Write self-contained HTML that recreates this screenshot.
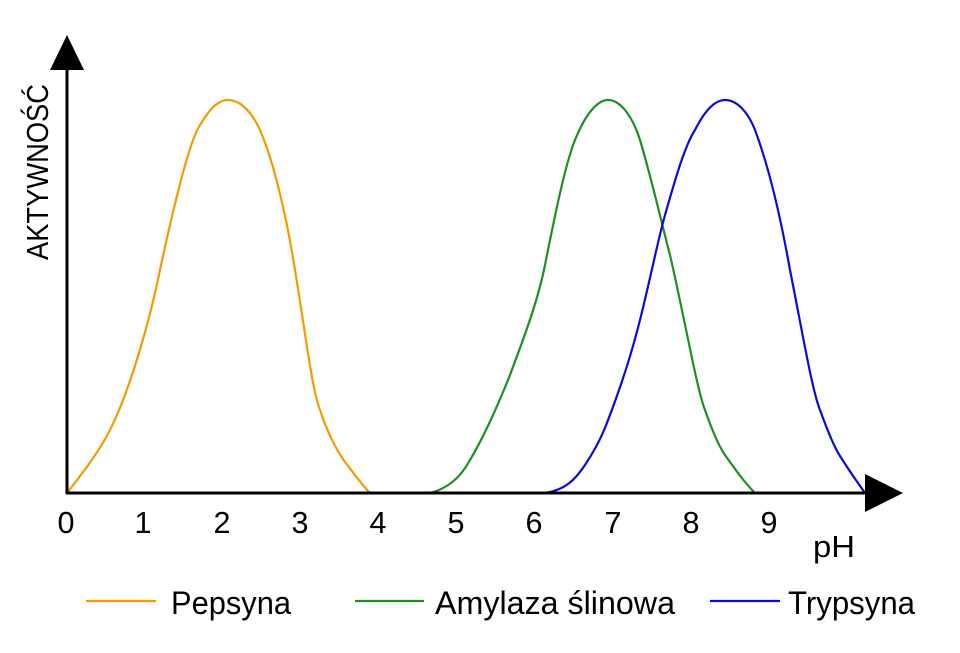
<!DOCTYPE html>
<html><head><meta charset="utf-8"><style>
html,body{margin:0;padding:0;background:#fff}
svg{display:block}
text{font-family:"Liberation Sans",sans-serif;fill:#000}
</style></head><body>
<svg width="960" height="653" viewBox="0 0 960 653" xmlns="http://www.w3.org/2000/svg">
<g fill="none" stroke-width="2.2" stroke-linejoin="round">
<path stroke="#f59a00" d="M67,493 C85,470 100,450 110,430 C130,390 150,320 160,270 C175,200 190,140 200,125 C212,105 220,100 228,100 C238,100 250,108 260,130 C275,165 287,220 295,270 C305,330 312,390 320,410 C330,440 340,455 345,462 C355,475 362,485 370,493"/>
<path stroke="#1f8f1f" d="M430,493 C450,488 462,475 470,460 C485,435 500,400 510,375 C525,335 538,300 545,265 C555,215 565,165 575,140 C585,115 597,100 608,100 C620,100 632,115 640,140 C652,180 662,225 670,255 C685,320 697,390 705,410 C712,430 718,445 725,455 C737,472 745,483 755,493"/>
<path stroke="#0a0ae0" d="M545,493 C565,490 575,480 585,465 C595,450 600,440 605,428 C618,395 630,360 640,320 C650,280 658,240 665,215 C675,180 685,145 695,130 C705,110 715,100 725,100 C737,100 748,112 755,130 C770,170 782,225 790,270 C802,330 812,390 820,410 C828,432 834,447 840,456 C850,472 858,483 865,493"/>
</g>
<g stroke="#000" stroke-width="3" fill="none">
<line x1="67" y1="66" x2="67" y2="494"/>
<line x1="66" y1="493" x2="868" y2="493"/>
</g>
<polygon points="67,35 84,70 50,70" fill="#000"/>
<polygon points="865,474 903,493 865,512" fill="#000"/>
<text transform="translate(48,260) rotate(-90)" font-size="31" textLength="176" lengthAdjust="spacingAndGlyphs">AKTYWNOŚĆ</text>
<g font-size="31" text-anchor="middle">
<text x="66" y="533" textLength="17" lengthAdjust="spacingAndGlyphs">0</text>
<text x="143" y="533" textLength="17" lengthAdjust="spacingAndGlyphs">1</text>
<text x="222" y="533" textLength="17" lengthAdjust="spacingAndGlyphs">2</text>
<text x="300" y="533" textLength="17" lengthAdjust="spacingAndGlyphs">3</text>
<text x="378" y="533" textLength="17" lengthAdjust="spacingAndGlyphs">4</text>
<text x="456" y="533" textLength="17" lengthAdjust="spacingAndGlyphs">5</text>
<text x="534" y="533" textLength="17" lengthAdjust="spacingAndGlyphs">6</text>
<text x="613" y="533" textLength="17" lengthAdjust="spacingAndGlyphs">7</text>
<text x="691" y="533" textLength="17" lengthAdjust="spacingAndGlyphs">8</text>
<text x="769" y="533" textLength="17" lengthAdjust="spacingAndGlyphs">9</text>
</g>
<text x="813" y="557" font-size="31" textLength="42" lengthAdjust="spacingAndGlyphs">pH</text>
<g stroke-width="2.2">
<line x1="86" y1="601" x2="156" y2="601" stroke="#f59a00"/>
<line x1="355" y1="601" x2="424" y2="601" stroke="#1f8f1f"/>
<line x1="710" y1="601" x2="780" y2="601" stroke="#0a0ae0"/>
</g>
<g font-size="32">
<text x="171" y="614" textLength="120" lengthAdjust="spacingAndGlyphs">Pepsyna</text>
<text x="435" y="614" textLength="240" lengthAdjust="spacingAndGlyphs">Amylaza ślinowa</text>
<text x="788" y="614" textLength="127" lengthAdjust="spacingAndGlyphs">Trypsyna</text>
</g>
</svg>
</body></html>
